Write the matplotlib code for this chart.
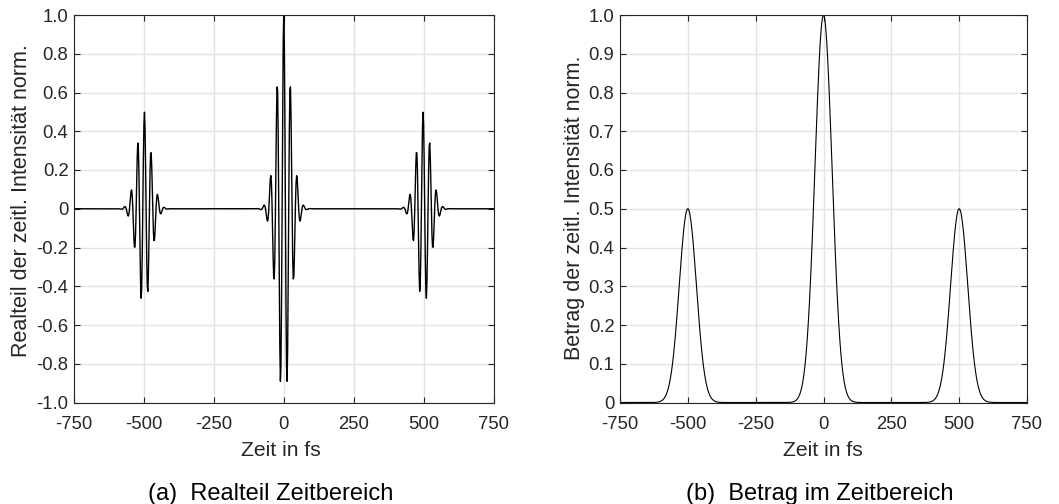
"""
Doppelpuls-Beispiel im Zeitbereich:
Hauptpuls bei 0 fs, zwei Repliken mit halber Amplitude bei -500 fs und +500 fs.
(a) Realteil des Feldes, (b) Betrag (Einhuellende).
"""

import numpy as np
import matplotlib
matplotlib.use("Agg")
import matplotlib.pyplot as plt

# Pulsparameter
pulse_centers = [-500.0, 0.0, 500.0]   # fs
pulse_amps = [0.5, 1.0, 0.5]           # normiert
sigma_re = 25.0                        # fs, Gauss-Breite im Realteil
sigma_abs = 31.5                       # fs, Gauss-Breite im Betrag
carrier_period = 23.72                 # fs

# Achsen
x_ticks = [-750, -500, -250, 0, 250, 500, 750]
x_ticklabels = ["-750", "-500", "-250", "0", "250", "500", "750"]
re_yticks = [-1.0, -0.8, -0.6, -0.4, -0.2, 0.0, 0.2, 0.4, 0.6, 0.8, 1.0]
abs_yticks = [0.0, 0.1, 0.2, 0.3, 0.4, 0.5, 0.6, 0.7, 0.8, 0.9, 1.0]

TEXT = "#262626"
GRID = "#e3e3e3"
W, H = 1059, 504

plt.rcParams["font.family"] = ["Liberation Sans", "DejaVu Sans"]
plt.rcParams["axes.unicode_minus"] = False


def tick_label(v):
    return "0" if abs(v) < 1e-9 else f"{v:.1f}"


def envelope(t, sigma):
    env = np.zeros_like(t)
    for c, a in zip(pulse_centers, pulse_amps):
        env += a * np.exp(-(t - c) ** 2 / (2 * sigma ** 2))
    return env


# Zeitachse wie in der Simulation (2 fs Schrittweite)
t = np.linspace(-750, 750, 751)
e_real = envelope(t, sigma_re) * np.cos(2 * np.pi * t / carrier_period)
e_abs = envelope(t, sigma_abs)


def px_axes(fig, left, top, right, bottom):
    return fig.add_axes([left / W, 1 - bottom / H, (right - left) / W, (bottom - top) / H])


def style_axes(ax, yticks):
    ax.set_xlim(-750, 750)
    ax.set_xticks(x_ticks)
    ax.set_xticklabels(x_ticklabels)
    ax.set_yticks(yticks)
    ax.set_yticklabels([tick_label(v) for v in yticks])
    ax.set_ylim(yticks[0], yticks[-1])
    ax.grid(True, color=GRID, linewidth=1.0)
    ax.set_axisbelow(True)
    ax.tick_params(direction="in", length=4.5, width=0.8, top=True, right=True,
                   colors=TEXT, labelsize=13.3)
    ax.tick_params(axis="x", pad=10)
    ax.tick_params(axis="y", pad=4)
    for sp in ax.spines.values():
        sp.set_color(TEXT)
        sp.set_linewidth(0.8)


fig = plt.figure(figsize=(W / 100, H / 100), dpi=100)

# (a) Realteil
ax1 = px_axes(fig, 74, 15, 493.5, 402.5)
ax1.plot(t, e_real, color="black", linewidth=1.0)
style_axes(ax1, re_yticks)

# (b) Betrag
ax2 = px_axes(fig, 620, 15, 1027, 402.5)
ax2.plot(t, e_abs, color="black", linewidth=0.8)
style_axes(ax2, abs_yticks)

# Achsenbeschriftungen
fig.text(281 / W, 1 - 456 / H, "Zeit in fs", ha="center", va="baseline",
         fontsize=15.2, color=TEXT)
fig.text(823 / W, 1 - 456 / H, "Zeit in fs", ha="center", va="baseline",
         fontsize=15.2, color=TEXT)
fig.text(27 / W, 1 - 201 / H, "Realteil der zeitl. Intensität norm.",
         rotation=90, rotation_mode="anchor", ha="center", va="baseline",
         fontsize=15.5, color=TEXT)
fig.text(580 / W, 1 - 208 / H, "Betrag der zeitl. Intensität norm.",
         rotation=90, rotation_mode="anchor", ha="center", va="baseline",
         fontsize=15.5, color=TEXT)

# Unterschriften
fig.text(270.5 / W, 1 - 500 / H, "(a)  Realteil Zeitbereich", ha="center",
         va="baseline", fontsize=17, color="black")
fig.text(820 / W, 1 - 500 / H, "(b)  Betrag im Zeitbereich", ha="center",
         va="baseline", fontsize=17, color="black")

fig.savefig("out.png", dpi=100)
